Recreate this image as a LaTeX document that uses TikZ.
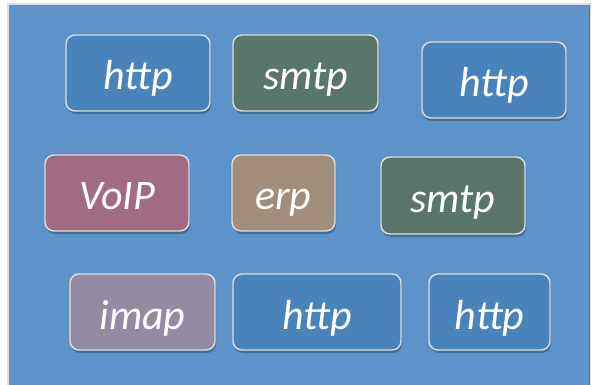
\documentclass[tikz,border=0pt]{standalone}
\usepackage{fontspec}
\setmainfont{Carlito}
\usetikzlibrary{shadows}
\definecolor{bgblue}{HTML}{5D93C8}
\definecolor{boxblue}{HTML}{4A83BA}
\definecolor{boxgreen}{HTML}{58766A}
\definecolor{boxpink}{HTML}{A26B84}
\definecolor{boxtan}{HTML}{A08D7C}
\definecolor{boxgray}{HTML}{928BA2}
\definecolor{rimgray}{HTML}{DEDEDE}
\begin{document}
\begin{tikzpicture}[x=1pt,y=-1pt,
  tag/.style={draw=rimgray, line width=1.4pt, rounded corners=9pt,
    inner sep=0pt, text=white, font=\fontsize{42}{42}\selectfont\itshape,
    text height=36pt, text depth=2pt,
    drop shadow={shadow xshift=1pt, shadow yshift=-3pt, opacity=0.25, fill=black}}]
\useasboundingbox (0,0) rectangle (592,385);
\fill[white] (0,0) rectangle (592,385);
\fill[rimgray] (7,3) rectangle (591,385);
\fill[bgblue] (9,5) rectangle (589,385);
\fill[bgblue!80!black] (589,5) rectangle (590,385);
% centre x, centre y, width, height
\node[tag, fill=boxblue,  minimum width=144pt, minimum height=76pt] (http1) at (138,73) {http};
\node[tag, fill=boxgreen, minimum width=145pt, minimum height=76pt] (smtp1) at (305.5,73) {smtp};
\node[tag, fill=boxblue,  minimum width=144pt, minimum height=76pt] (http2) at (494,80) {http};
\node[tag, fill=boxpink,  minimum width=144pt, minimum height=76pt] (voip) at (117,193) {VoIP};
\node[tag, fill=boxtan,   minimum width=103pt, minimum height=76pt] (erp) at (283.5,193) {erp};
\node[tag, fill=boxgreen, minimum width=144pt, minimum height=77pt] (smtp2) at (453,195.5) {smtp};
\node[tag, fill=boxgray,  minimum width=145pt, minimum height=76pt] (imap) at (142.5,312) {imap};
\node[tag, fill=boxblue,  minimum width=168pt, minimum height=76pt] (http3) at (317,312) {http};
\node[tag, fill=boxblue,  minimum width=121pt, minimum height=76pt] (http4) at (489.5,312) {http};
\end{tikzpicture}
\end{document}
